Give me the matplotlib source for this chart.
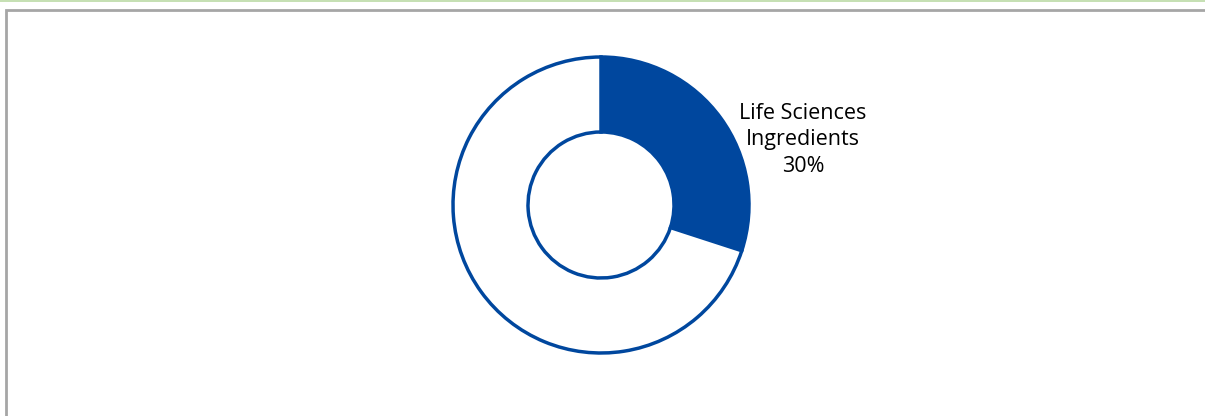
"""Donut chart: share of Life Sciences Ingredients."""

import matplotlib.pyplot as plt
from matplotlib.patches import Rectangle

segments = ["Life Sciences\nIngredients", "Other"]
shares = [30, 70]
fills = ["#00479E", "white"]
edge = "#00479E"

W, H = 1205, 416
fig = plt.figure(figsize=(W / 100, H / 100), dpi=100)

# frame: green rule on top, grey box
fig.add_artist(Rectangle((0, 1 - 2 / H), 1, 2 / H, transform=fig.transFigure,
                         facecolor="#c6e0b4", edgecolor="none"))
fig.add_artist(Rectangle((6 / W, -0.1), 1.1, 1 - 10 / H + 0.1, transform=fig.transFigure,
                         facecolor="none", edgecolor="#a6a6a6", lw=2.0))

cx, cy, half = 601, 205, 160
ax = fig.add_axes([(cx - half) / W, (H - cy - half) / H, 2 * half / W, 2 * half / H])

ax.pie(shares, colors=fills, startangle=90, counterclock=False, radius=1.0,
       wedgeprops=dict(width=75 / 148, edgecolor=edge, linewidth=2.5))
ax.set_xlim(-half / 148, half / 148)
ax.set_ylim(-half / 148, half / 148)
ax.axis("off")

ax.text(202 / 148, 65 / 148, f"{segments[0]}\n{shares[0]}%",
        ha="center", va="center", fontsize=15.5, family="Open Sans",
        linespacing=1.35, color="black")

fig.savefig("out.png", dpi=100)
